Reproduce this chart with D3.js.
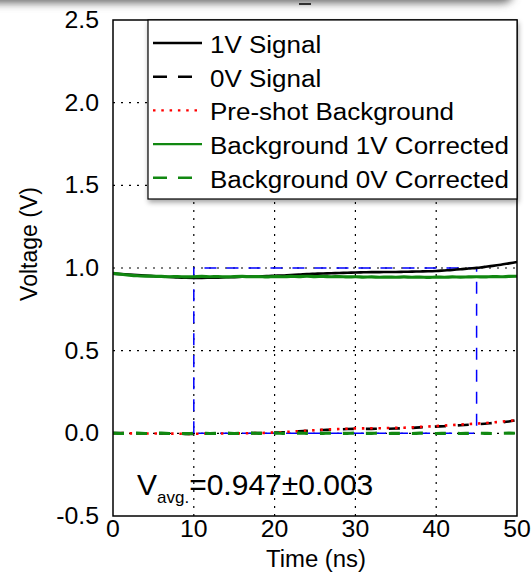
<!DOCTYPE html>
<html><head><meta charset="utf-8">
<script src="https://cdn.jsdelivr.net/npm/d3@7"></script>
<style>html,body{margin:0;padding:0;background:#fff;overflow:hidden}</style>
</head><body>
<script>
// ---- data ----
const time = d3.range(0, 51, 1);
const signal1V = [0.966,0.963,0.960,0.957,0.954,0.951,0.948,0.946,0.943,0.941,0.940,0.940,0.941,0.942,0.944,0.945,0.947,0.948,0.950,0.951,0.953,0.955,0.958,0.960,0.963,0.965,0.967,0.968,0.970,0.971,0.973,0.974,0.975,0.975,0.976,0.976,0.977,0.978,0.979,0.980,0.982,0.985,0.988,0.992,0.997,1.001,1.007,1.013,1.020,1.028,1.036];
const signal0V = [0.002,0.001,0.001,0.000,0.000,-0.001,-0.001,-0.002,-0.002,-0.003,-0.003,-0.003,-0.002,-0.002,-0.001,-0.001,0.000,0.001,0.002,0.003,0.004,0.006,0.009,0.012,0.015,0.018,0.020,0.022,0.024,0.026,0.027,0.027,0.027,0.028,0.028,0.029,0.031,0.033,0.036,0.038,0.041,0.043,0.046,0.049,0.052,0.055,0.058,0.062,0.066,0.072,0.080];
const preshot = [0.000,0.001,0.000,0.000,-0.001,-0.001,-0.002,-0.002,-0.002,-0.003,-0.003,-0.002,-0.002,-0.001,-0.001,0.000,0.000,0.001,0.002,0.003,0.005,0.007,0.010,0.013,0.016,0.019,0.022,0.024,0.026,0.028,0.030,0.030,0.031,0.031,0.032,0.033,0.034,0.036,0.039,0.041,0.044,0.047,0.050,0.053,0.056,0.059,0.062,0.066,0.070,0.075,0.080];
const corr1V = [0.968,0.962,0.957,0.953,0.951,0.950,0.949,0.947,0.948,0.946,0.947,0.949,0.947,0.948,0.946,0.948,0.949,0.947,0.948,0.946,0.948,0.947,0.949,0.948,0.950,0.948,0.949,0.947,0.948,0.946,0.947,0.945,0.946,0.944,0.945,0.944,0.946,0.944,0.945,0.943,0.945,0.944,0.946,0.945,0.946,0.947,0.946,0.948,0.947,0.949,0.950];
const corr0V = [0.001,-0.001,0.000,0.001,-0.001,0.000,0.001,-0.001,0.000,-0.002,0.000,0.001,-0.001,0.000,0.001,-0.001,0.000,0.001,0.000,-0.001,0.001,0.000,-0.001,0.001,0.000,-0.001,0.000,0.001,-0.001,0.000,0.001,-0.001,0.000,0.001,-0.001,0.000,0.000,-0.001,0.001,0.000,-0.001,0.000,0.001,-0.001,0.000,0.001,0.000,-0.001,0.000,0.001,0.000];
const xTicks = [0,10,20,30,40,50];
const yTicks = [-0.5,0.0,0.5,1.0,1.5,2.0,2.5];
const avgWindow = [10, 45]; // ns
const avgLevel = [0, 1.0];
const legendLabels = ["1V Signal","0V Signal","Pre-shot Background","Background 1V Corrected","Background 0V Corrected"];

// ---- layout ----
const W = 532, H = 573;
const L = 113, R = 517, T = 20, B = 516;
const FONT = "'Liberation Sans', Arial, Helvetica, sans-serif";

const svg = d3.select("body").append("svg").attr("width", W).attr("height", H);
const defs = svg.append("defs");
const blur = defs.append("filter").attr("id","blur").attr("x","-20%").attr("y","-200%").attr("width","140%").attr("height","500%");
blur.append("feGaussianBlur").attr("stdDeviation", 4);
const sh = defs.append("filter").attr("id","shadow").attr("x","-10%").attr("y","-10%").attr("width","125%").attr("height","130%");
sh.append("feDropShadow").attr("dx",1).attr("dy",3).attr("stdDeviation",2.5).attr("flood-color","#000").attr("flood-opacity",0.35);
defs.append("clipPath").attr("id","plotclip").append("rect").attr("x",L).attr("y",T).attr("width",R-L).attr("height",B-T);

// top banner shadow
svg.append("rect").attr("x",-40).attr("y",-40).attr("width",553).attr("height",43).attr("rx",10)
  .attr("fill","#6a6a6a").attr("filter","url(#blur)");
svg.append("line").attr("x1",299).attr("x2",311).attr("y1",4).attr("y2",4).attr("stroke","#000").attr("stroke-width",1.5);

const x = d3.scaleLinear().domain([0,50]).range([L,R]);
const y = d3.scaleLinear().domain([-0.5,2.5]).range([B,T]);

function txt(g, px, py, s, size, anchor, sx, rot) {
  return g.append("text")
    .attr("transform", `translate(${px},${py})` + (rot ? ` rotate(${rot})` : "") + ` scale(${sx||1},1)`)
    .attr("font-family", FONT).attr("font-size", size).attr("text-anchor", anchor || "start")
    .attr("fill","#000").text(s);
}

// grid
const grid = svg.append("g").attr("stroke","#000").attr("stroke-width",1.2).attr("stroke-dasharray","2,6");
grid.selectAll("line.v").data(xTicks.slice(1,-1)).join("line").attr("class","v")
  .attr("x1", d=>x(d)).attr("x2", d=>x(d)).attr("y1", B).attr("y2", T);
grid.selectAll("line.h").data(yTicks.slice(1,-1)).join("line").attr("class","h")
  .attr("x1", L).attr("x2", R).attr("y1", d=>y(d)).attr("y2", d=>y(d));

// averaging window box
const bw = svg.append("g").attr("fill","none").attr("stroke","#0000ff").attr("stroke-width",1.5).attr("stroke-dasharray","12,10");
bw.append("path").attr("d",
  `M${x(avgWindow[0])},${y(avgLevel[0])}L${x(avgWindow[0])},${y(avgLevel[1])}L${x(avgWindow[1])},${y(avgLevel[1])}L${x(avgWindow[1])},${y(avgLevel[0])}Z`);

// series
const series = [
  {vals: signal1V, color:"#000", w:2.6, dash:null},
  {vals: signal0V, color:"#000", w:2.6, dash:"11,12"},
  {vals: preshot, color:"#ff0000", w:2.6, dash:"2.5,5.8"},
  {vals: corr1V, color:"#118811", w:3.2, dash:null},
  {vals: corr0V, color:"#118811", w:3.2, dash:"11,12"}
];
const line = d3.line().x((d,i)=>x(time[i])).y(d=>y(d)).curve(d3.curveMonotoneX);
const plot = svg.append("g").attr("clip-path","url(#plotclip)");
series.forEach(s => {
  plot.append("path").attr("d", line(s.vals)).attr("fill","none")
    .attr("stroke", s.color).attr("stroke-width", s.w)
    .attr("stroke-dasharray", s.dash);
});

// frame
svg.append("rect").attr("x",L).attr("y",T).attr("width",R-L).attr("height",B-T)
  .attr("fill","none").attr("stroke","#000").attr("stroke-width",1.5);

// legend
const lg = svg.append("g");
lg.append("rect").attr("x",148).attr("y",T).attr("width",R-148).attr("height",179)
  .attr("fill","#fff").attr("stroke","#000").attr("stroke-width",1.2).attr("filter","url(#shadow)");
legendLabels.forEach((lab,i) => {
  const ly = 43 + i*33.7;
  const s = series[i];
  lg.append("line").attr("x1",153).attr("x2",202).attr("y1",ly).attr("y2",ly)
    .attr("stroke", s.color).attr("stroke-width", 2.4)
    .attr("stroke-dasharray", s.dash ? (i===2 ? "2.5,5.8" : "14,11") : null);
  txt(lg, 210, ly + 10, lab, 23, "start", 1.13);
});

// axes labels
yTicks.forEach(v => txt(svg, 99, y(v) + 8, d3.format(".1f")(v).replace("\u2212","-"), 23, "end", 1.08));
xTicks.forEach(v => txt(svg, x(v), 537, String(v), 23, "middle", 1.08));
txt(svg, 316, 567, "Time (ns)", 23, "middle", 1.04);
txt(svg, 37, 244, "Voltage (V)", 23, "middle", 1, -90);

// annotation
const ann = svg.append("text").attr("x",137).attr("y",495).attr("font-family",FONT).attr("font-size",30).attr("fill","#000");
ann.append("tspan").text("V");
ann.append("tspan").attr("font-size",17).attr("dy",8).text("avg.");
ann.append("tspan").attr("dy",-8).text("=0.947±0.003");
</script>
</body></html>
